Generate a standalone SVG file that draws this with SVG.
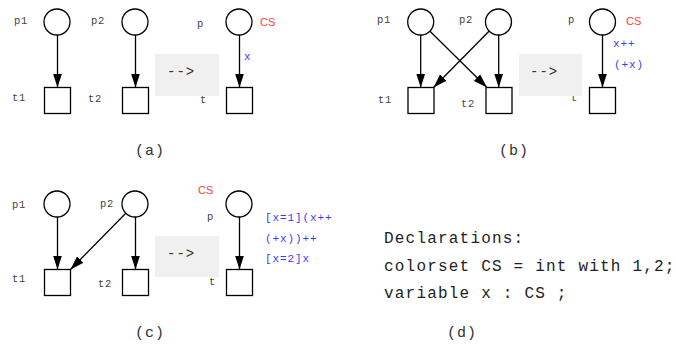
<svg xmlns="http://www.w3.org/2000/svg" width="676" height="345" viewBox="0 0 676 345">
<style>
.pl{fill:#fff;stroke:#000;stroke-width:1.3}
.tr{fill:#fff;stroke:#000;stroke-width:1.3}
.arc{stroke:#000;stroke-width:1.3;fill:none;marker-end:url(#ah)}
.lb{font-family:"Liberation Mono",monospace;font-size:10.5px;letter-spacing:0.6px;fill:#444}
.cs{font-family:"Liberation Sans",Arial,sans-serif;font-size:11px;fill:#ff4040}
.ex{font-family:"Liberation Mono",monospace;font-size:11px;letter-spacing:0.9px;fill:#3a3aff}
.box{fill:#f0f0f0}
.ar{font-family:"Liberation Mono",monospace;font-size:14px;letter-spacing:1px;fill:#333}
.cap{font-family:"Liberation Mono",monospace;font-size:15px;letter-spacing:1px;fill:#333}
.dec{font-family:"Liberation Mono",monospace;font-size:16px;letter-spacing:1.2px;fill:#222}
</style>
<defs>
<marker id="ah" markerUnits="userSpaceOnUse" markerWidth="14" markerHeight="10" refX="14" refY="5" orient="auto">
<path d="M0,0.5 L14,5 L0,9.5 z" fill="#000"/>
</marker>
</defs>

<!-- (a) -->
<g id="a-p1"><circle class="pl" cx="57" cy="22" r="13"/><text class="lb" x="14" y="24">p1</text></g>
<g id="a-p2"><circle class="pl" cx="135" cy="22" r="13"/><text class="lb" x="91" y="24">p2</text></g>
<g id="a-t1"><rect class="tr" x="44.5" y="87.5" width="26" height="26"/><text class="lb" x="12" y="101">t1</text></g>
<g id="a-t2"><rect class="tr" x="122.5" y="87.5" width="26" height="26"/><text class="lb" x="88" y="102">t2</text></g>
<g id="a-arrow"><rect class="box" x="155" y="54" width="64" height="42"/><text class="ar" x="167" y="76">--&gt;</text></g>
<g id="a-p"><circle class="pl" cx="239" cy="22" r="13"/><text class="lb" x="197" y="27">p</text><text class="cs" x="260" y="26">CS</text></g>
<g id="a-t"><rect class="tr" x="226.5" y="87.5" width="26" height="26"/><text class="lb" x="200" y="103">t</text></g>
<text class="ex" x="244" y="60">x</text>
<text class="cap" x="135" y="155">(a)</text>

<!-- (b) -->
<g id="b-p1"><circle class="pl" cx="420.7" cy="22" r="13"/><text class="lb" x="377" y="23">p1</text></g>
<g id="b-p2"><circle class="pl" cx="498.5" cy="22" r="13"/><text class="lb" x="459" y="23">p2</text></g>
<g id="b-t1"><rect class="tr" x="408" y="87.5" width="26" height="26"/><text class="lb" x="378" y="103">t1</text></g>
<g id="b-t2"><rect class="tr" x="486" y="87.5" width="26" height="26"/><text class="lb" x="461" y="107">t2</text></g>
<g id="b-t"><rect class="tr" x="589.5" y="87.5" width="26" height="26"/><text class="lb" x="571" y="101">t</text></g>
<g id="b-arrow"><rect class="box" x="519" y="54" width="63" height="42"/><text class="ar" x="530" y="76">--&gt;</text></g>
<g id="b-p"><circle class="pl" cx="602.5" cy="22" r="13"/><text class="lb" x="568" y="23">p</text><text class="cs" x="626" y="25">CS</text></g>
<text class="ex" x="613" y="47">x++</text>
<text class="ex" x="614" y="68">(+x)</text>
<text class="cap" x="499" y="155">(b)</text>

<!-- (c) -->
<g id="c-p1"><circle class="pl" cx="57" cy="204" r="13"/><text class="lb" x="12" y="208">p1</text></g>
<g id="c-p2"><circle class="pl" cx="135" cy="204" r="13"/><text class="lb" x="100" y="207">p2</text></g>
<g id="c-t1"><rect class="tr" x="44.5" y="269.5" width="26" height="26"/><text class="lb" x="12" y="282">t1</text></g>
<g id="c-t2"><rect class="tr" x="122.5" y="269.5" width="26" height="26"/><text class="lb" x="98" y="287">t2</text></g>
<g id="c-arrow"><rect class="box" x="155" y="236" width="64" height="41"/><text class="ar" x="167" y="258">--&gt;</text></g>
<g id="c-p"><circle class="pl" cx="239" cy="204" r="13"/><text class="lb" x="207" y="220">p</text><text class="cs" x="198" y="194">CS</text></g>
<g id="c-t"><rect class="tr" x="226.5" y="269.5" width="26" height="26"/><text class="lb" x="209" y="285">t</text></g>
<text class="ex" x="265" y="221">[x=1](x++</text>
<text class="ex" x="265" y="242">(+x))++</text>
<text class="ex" x="265" y="262">[x=2]x</text>
<text class="cap" x="135" y="337">(c)</text>

<!-- (d) -->
<g id="d-decl">
<text class="dec" x="384" y="243">Declarations:</text>
<text class="dec" x="384" y="271">colorset CS = int with 1,2;</text>
<text class="dec" x="384" y="298">variable x : CS ;</text>
</g>
<text class="cap" x="447" y="337">(d)</text>

<g id="connectors">
<line class="arc" x1="57.5" y1="35" x2="57.5" y2="87.5"/>
<line class="arc" x1="135.5" y1="35" x2="135.5" y2="87.5"/>
<line class="arc" x1="239.5" y1="35" x2="239.5" y2="87.5"/>
<line class="arc" x1="420.7" y1="35" x2="420.7" y2="87.5"/>
<line class="arc" x1="498.7" y1="35" x2="498.7" y2="87.5"/>
<line class="arc" x1="430" y1="31.2" x2="487" y2="87.5"/>
<line class="arc" x1="489" y1="31.2" x2="433.5" y2="87.5"/>
<line class="arc" x1="602.5" y1="35" x2="602.5" y2="87.5"/>
<line class="arc" x1="57.5" y1="217" x2="57.5" y2="269.5"/>
<line class="arc" x1="135.5" y1="217" x2="135.5" y2="269.5"/>
<line class="arc" x1="125.8" y1="213.2" x2="70.5" y2="269.5"/>
<line class="arc" x1="239.5" y1="217" x2="239.5" y2="269.5"/>
</g>
</svg>
